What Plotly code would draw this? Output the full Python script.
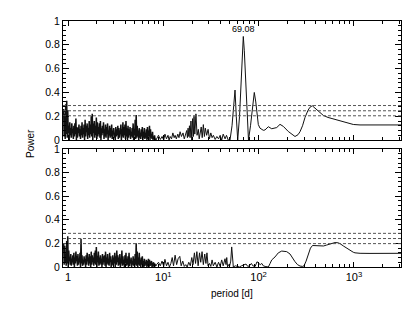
import numpy as np
import plotly.graph_objects as go

# ---------------- data ----------------
# dense short-period forest, 0.9 d .. 8.2 d: alternating local maxima / minima
top_dense_peaks = [0.26,0.22,0.30,0.33,0.25,0.12,0.15,0.10,0.14,0.09,
                   0.12,0.14,0.18,0.11,0.10,0.13,0.09,0.12,0.15,0.10,
                   0.13,0.17,0.12,0.14,0.10,0.16,0.13,0.20,0.22,0.14,
                   0.16,0.12,0.19,0.15,0.11,0.14,0.16,0.10,0.12,0.15,
                   0.09,0.13,0.11,0.14,0.08,0.12,0.10,0.13,0.07,0.10,
                   0.06,0.11,0.09,0.12,0.10,0.08,0.13,0.09,0.15,0.11,
                   0.13,0.16,0.10,0.12,0.09,0.11,0.07,0.10,0.14,0.09,
                   0.17,0.21,0.12,0.08,0.10,0.06,0.09,0.11,0.07,0.10,
                   0.06,0.09,0.11,0.08,0.12,0.09,0.05,0.07,0.03,0.04]
top_dense_troughs = [0.03,0.01,0.05,0.02,0.06,0.00,0.04,0.02,0.07,0.01,
                     0.03,0.05,0.00,0.02,0.06,0.03,0.01,0.04,0.02,0.05,
                     0.00,0.03,0.07,0.01,0.04,0.02,0.05,0.03,0.00,0.06,
                     0.02,0.04,0.01,0.03,0.05,0.02,0.00,0.04,0.06,0.01,
                     0.03,0.02,0.05,0.00,0.04,0.02,0.03,0.01,0.05,0.02,
                     0.00,0.03,0.04,0.01,0.02,0.05,0.00,0.03,0.02,0.04,
                     0.01,0.03,0.00,0.02,0.04,0.01,0.03,0.02,0.00,0.04,
                     0.01,0.02,0.03,0.00,0.02,0.01,0.03,0.00,0.02,0.01,
                     0.02,0.00,0.01,0.03,0.00,0.02,0.01,0.00,0.01,0.00]
bottom_dense_peaks = [0.20,0.18,0.10,0.22,0.26,0.14,0.08,0.11,0.07,0.10,
                      0.12,0.08,0.13,0.09,0.11,0.07,0.12,0.24,0.10,0.06,
                      0.09,0.07,0.10,0.12,0.08,0.11,0.09,0.13,0.10,0.08,
                      0.12,0.14,0.17,0.09,0.13,0.08,0.10,0.07,0.11,0.09,
                      0.10,0.13,0.08,0.11,0.07,0.12,0.09,0.06,0.10,0.08,
                      0.12,0.09,0.14,0.10,0.08,0.11,0.07,0.14,0.09,0.06,
                      0.10,0.12,0.07,0.09,0.12,0.06,0.08,0.05,0.09,0.07,
                      0.11,0.20,0.13,0.08,0.12,0.06,0.08,0.09,0.05,0.07,
                      0.04,0.06,0.05,0.07,0.06,0.03,0.05,0.02,0.04,0.03]
bottom_dense_troughs = [0.02,0.04,0.01,0.03,0.00,0.05,0.02,0.01,0.04,0.02,
                        0.00,0.03,0.05,0.01,0.02,0.04,0.00,0.03,0.01,0.02,
                        0.04,0.00,0.02,0.05,0.01,0.03,0.00,0.02,0.04,0.01,
                        0.03,0.02,0.00,0.04,0.01,0.02,0.03,0.00,0.02,0.04,
                        0.01,0.00,0.03,0.02,0.01,0.04,0.00,0.02,0.01,0.03,
                        0.00,0.02,0.04,0.01,0.02,0.00,0.03,0.01,0.02,0.00,
                        0.03,0.01,0.02,0.00,0.01,0.03,0.00,0.02,0.01,0.00,
                        0.02,0.01,0.00,0.02,0.01,0.00,0.02,0.01,0.00,0.01,
                        0.02,0.00,0.01,0.00,0.01,0.02,0.00,0.01,0.00,0.01]
dense_period_start = 0.9
dense_period_end = 8.2

top_sparse_period = [8.5, 8.9, 9.3, 9.7, 10.1, 10.4, 10.8, 11.2, 11.5, 11.8,
                     12.2, 12.6, 13.0, 13.3, 13.7, 14.2, 14.6, 15.0, 15.5, 16.1,
                     16.6, 17.1, 17.6, 17.9, 18.2, 18.5, 18.8, 19.1, 19.5, 19.9,
                     20.3, 20.7, 21.0, 21.4, 22.0, 22.6, 23.3, 23.8, 24.3, 25.0,
                     25.6, 26.3, 27.0, 27.6, 28.5, 29.5, 30.5, 31.5, 32.5, 33.5,
                     35.0, 36.5, 38.0, 39.5, 41.0, 42.5, 44.5, 46.0, 48.0, 50.1,
                     52.6, 54.5, 56.55, 58.3, 60.35, 63.05, 65.37, 67.45, 69.08, 70.8,
                     73.2, 75.9, 78.3, 82.2, 86.3, 90.1, 93.4, 96.2, 99.3, 103.4,
                     107.8, 112.0, 116.7, 126.5, 137.3, 145.1, 154.9, 167.7, 181.6, 204.9,
                     224.1, 241, 259.1, 271.9, 288.9, 306.8, 329.9, 346.2, 365.9, 386.0,
                     407, 440.9, 477.5, 534.8, 608, 681, 774, 867, 985.6, 1159,
                     1475, 1879, 3120]
top_sparse_power = [0.01, 0.04, 0.005, 0.03, 0.0, 0.05, 0.01, 0.04, 0.0, 0.03,
                    0.01, 0.06, 0.02, 0.04, 0.01, 0.05, 0.02, 0.07, 0.03, 0.06,
                    0.01, 0.04, 0.08, 0.02, 0.10, 0.03, 0.12, 0.02, 0.16, 0.0,
                    0.18, 0.03, 0.20, 0.05, 0.22, 0.04, 0.09, 0.01, 0.07, 0.11,
                    0.02, 0.13, 0.03, 0.10, 0.04, 0.09, 0.01, 0.06, 0.02, 0.04,
                    0.005, 0.03, 0.01, 0.04, 0.0, 0.05, 0.01, 0.04, 0.0, 0.0,
                    0.12, 0.28, 0.42, 0.20, 0.0, 0.20, 0.48, 0.75, 0.87, 0.75,
                    0.45, 0.15, 0.0, 0.12, 0.30, 0.40, 0.32, 0.20, 0.13, 0.10,
                    0.088, 0.082, 0.085, 0.112, 0.095, 0.10, 0.105, 0.132, 0.115, 0.072,
                    0.045, 0.03, 0.045, 0.07, 0.12, 0.19, 0.25, 0.276, 0.288, 0.272,
                    0.254, 0.228, 0.207, 0.19, 0.178, 0.165, 0.152, 0.14, 0.131, 0.127,
                    0.126, 0.126, 0.127]

bottom_sparse_period = [8.5, 8.9, 9.3, 9.7, 10.1, 10.4, 10.8, 11.2, 11.6, 12.0,
                        12.4, 12.8, 13.3, 13.8, 14.3, 14.9, 15.4, 16.0, 16.6, 17.2,
                        17.8, 18.5, 19.2, 19.9, 20.5, 21.2, 21.8, 22.5, 23.2, 24.0,
                        24.7, 25.5, 26.3, 27.2, 28.0, 28.7, 29.5, 30.5, 31.5, 32.5,
                        33.5, 35, 36.5, 38, 39.5, 41, 42.5, 44.4, 45.5, 46.3,
                        47.2, 48.1, 49.5, 51, 52.2, 53.3, 54.3, 57, 60, 63,
                        66, 70, 73.8, 77, 80, 84, 87, 92, 96.2, 99,
                        104, 108, 112, 117, 126.5, 132, 137.3, 148.6, 161, 174.8,
                        185, 197.2, 213.5, 228, 241, 256, 272, 290, 299.5, 315,
                        332, 350, 368, 390, 407, 430, 448, 480, 518, 570,
                        634, 680, 715, 775, 840, 910, 985, 1027, 1160, 1475,
                        2000, 3120]
bottom_sparse_power = [0.02, 0.04, 0.01, 0.05, 0.005, 0.065, 0.01, 0.04, 0.0, 0.03,
                       0.08, 0.01, 0.10, 0.02, 0.07, 0.09, 0.01, 0.05, 0.005, 0.02,
                       0.0, 0.04, 0.01, 0.08, 0.02, 0.12, 0.03, 0.13, 0.01, 0.12,
                       0.04, 0.13, 0.02, 0.11, 0.03, 0.12, 0.01, 0.03, 0.005, 0.06,
                       0.01, 0.04, 0.0, 0.04, 0.005, 0.06, 0.01, 0.07, 0.02, 0.08,
                       0.0, 0.02, 0.005, 0.05, 0.17, 0.05, 0.0, 0.01, 0.005, 0.0,
                       0.01, 0.02, 0.025, 0.005, 0.01, 0.03, 0.01, 0.005, 0.045, 0.035,
                       0.02, 0.03, 0.01, 0.005, 0.0, 0.03, 0.06, 0.085, 0.12, 0.135,
                       0.135, 0.13, 0.11, 0.07, 0.045, 0.02, 0.008, 0.005, 0.01, 0.05,
                       0.10, 0.16, 0.182, 0.181, 0.178, 0.174, 0.173, 0.178, 0.186, 0.197,
                       0.207, 0.205, 0.198, 0.178, 0.158, 0.14, 0.125, 0.12, 0.116, 0.115,
                       0.115, 0.116]

top_fap_levels = [0.29, 0.246, 0.204]
bottom_fap_levels = [0.285, 0.241, 0.198]

peak_period = 69.08
peak_label = "69.08"

x_tickvals = [1, 10, 100, 1000]
x_ticktext = ["1", "10<sup>1</sup>", "10<sup>2</sup>", "10<sup>3</sup>"]
y_tickvals = [0, 0.2, 0.4, 0.6, 0.8, 1.0]
y_ticktext = ["0", "0.2", "0.4", "0.6", "0.8", "1"]

# ---------------- assemble ----------------
def interleave(a, b):
    out = []
    for p, t in zip(a, b):
        out.extend([p, t])
    return out

top_dense = interleave(top_dense_peaks, top_dense_troughs)
bot_dense = interleave(bottom_dense_peaks, bottom_dense_troughs)
dense_period = list(np.geomspace(dense_period_start, dense_period_end, len(top_dense)))

FONT = "Liberation Sans, Arial, Helvetica, sans-serif"
LINE = "#111111"
minor_x = [m * d for d in (1, 10, 100, 1000) for m in range(2, 10)]

fig = go.Figure()
# dense forest (drawn a bit heavier so it reads as the solid band of the original)
fig.add_trace(go.Scatter(x=dense_period + top_sparse_period[:1], y=top_dense + top_sparse_power[:1],
                         mode="lines", line=dict(color=LINE, width=1.5),
                         xaxis="x", yaxis="y", showlegend=False, hoverinfo="skip"))
fig.add_trace(go.Scatter(x=top_sparse_period, y=top_sparse_power, mode="lines",
                         line=dict(color=LINE, width=1), xaxis="x", yaxis="y",
                         showlegend=False, hoverinfo="skip"))
fig.add_trace(go.Scatter(x=dense_period + bottom_sparse_period[:1], y=bot_dense + bottom_sparse_power[:1],
                         mode="lines", line=dict(color=LINE, width=1.5),
                         xaxis="x2", yaxis="y2", showlegend=False, hoverinfo="skip"))
fig.add_trace(go.Scatter(x=bottom_sparse_period, y=bottom_sparse_power, mode="lines",
                         line=dict(color=LINE, width=1), xaxis="x2", yaxis="y2",
                         showlegend=False, hoverinfo="skip"))

xr = [np.log10(0.886), np.log10(3120)]
xbase = dict(type="log", range=xr, showline=True, linecolor="black", linewidth=1,
             mirror="ticks", ticks="inside", ticklen=5, tickcolor="black", tickwidth=1,
             tickmode="array", tickvals=x_tickvals, ticktext=x_ticktext,
             minor=dict(tickmode="array", tickvals=minor_x, ticks="inside",
                        ticklen=3, tickcolor="black", tickwidth=1, showgrid=False),
             showgrid=False, zeroline=False,
             tickfont=dict(family=FONT, size=11, color="black"))
ybase = dict(range=[0, 1], showline=True, linecolor="black", linewidth=1,
             mirror="ticks", ticks="inside", ticklen=6, tickcolor="black", tickwidth=1,
             tickmode="array", tickvals=y_tickvals, ticktext=y_ticktext,
             minor=dict(dtick=0.04, tick0=0, ticks="inside", ticklen=3,
                        tickcolor="black", tickwidth=1, showgrid=False),
             showgrid=False, zeroline=False,
             tickfont=dict(family=FONT, size=10.5, color="black"))

# page body has an 8px default margin, so margins are offset by 8px
fig.update_layout(
    width=419, height=314,
    margin=dict(l=55, r=26, t=7, b=55),
    paper_bgcolor="white", plot_bgcolor="white",
    xaxis=dict(xbase, anchor="y", showticklabels=False),
    yaxis=dict(ybase, anchor="x", domain=[0.516, 1.0]),
    xaxis2=dict(xbase, anchor="y2"),
    yaxis2=dict(ybase, anchor="x2", domain=[0.0, 0.48]),
    font=dict(family=FONT, color="black"),
)

shapes = []
for lev in top_fap_levels:
    shapes.append(dict(type="line", xref="x domain", yref="y", x0=0, x1=1, y0=lev, y1=lev,
                       line=dict(color="#555555", width=1, dash="3px,2px")))
for lev in bottom_fap_levels:
    shapes.append(dict(type="line", xref="x2 domain", yref="y2", x0=0, x1=1, y0=lev, y1=lev,
                       line=dict(color="#555555", width=1, dash="3px,2px")))
fig.update_layout(shapes=shapes)

fig.add_annotation(x=np.log10(peak_period), y=0.935, xref="x", yref="y", text=peak_label,
                   showarrow=False, font=dict(family=FONT, size=9, color="black"))
fig.add_annotation(x=-0.098, y=0.504, xref="paper", yref="paper", text="Power",
                   textangle=-90, showarrow=False, xanchor="center", yanchor="middle",
                   font=dict(family=FONT, size=10, color="black"))
fig.add_annotation(x=0.5, y=-0.107, xref="paper", yref="paper", text="period [d]",
                   showarrow=False, xanchor="center", yanchor="middle",
                   font=dict(family=FONT, size=10, color="black"))

fig.write_html("out.html")
